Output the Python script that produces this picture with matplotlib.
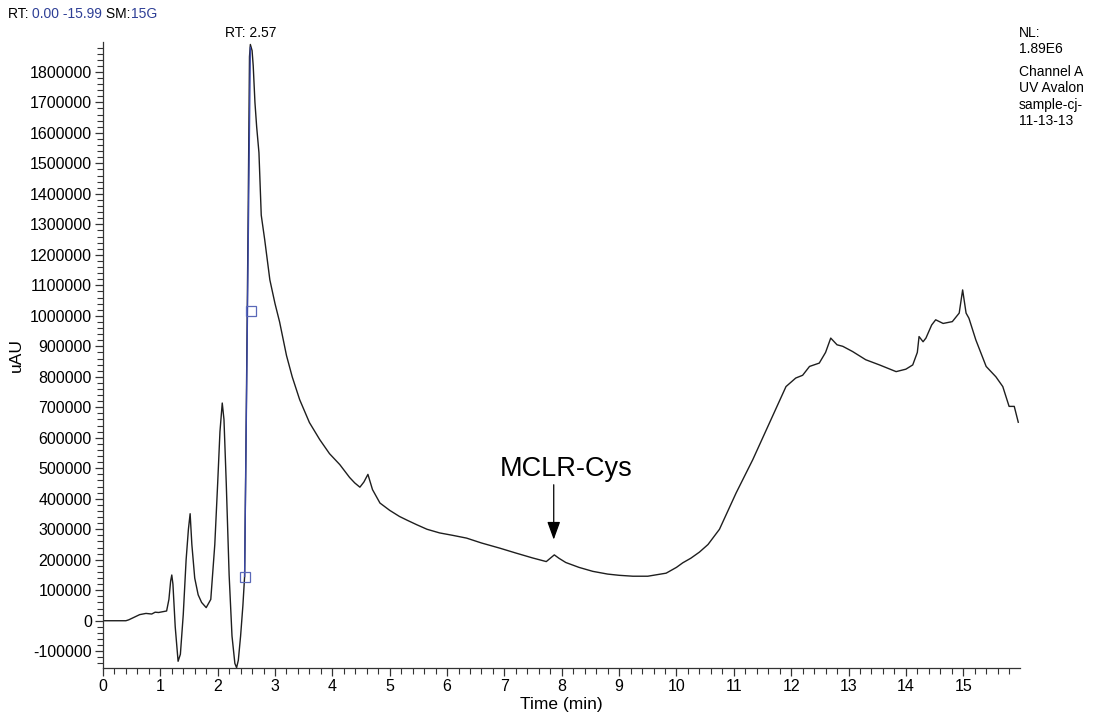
import matplotlib
matplotlib.use("Agg")
import matplotlib.pyplot as plt
from matplotlib.ticker import MultipleLocator, FixedLocator

plt.rcParams['font.family'] = ['Liberation Sans', 'DejaVu Sans']

# ---- data ----
time_min = [0.0, 0.40, 0.45, 0.55, 0.64, 0.75, 0.85, 0.91, 0.97, 1.05, 1.11, 1.15, 1.18, 1.20,
            1.22, 1.26, 1.31, 1.35, 1.40, 1.45, 1.49, 1.52, 1.55, 1.60, 1.66, 1.72, 1.80, 1.88,
            1.95, 2.00, 2.04, 2.08, 2.11, 2.15, 2.20, 2.25, 2.30, 2.33, 2.36, 2.40, 2.44, 2.47,
            2.50, 2.53, 2.555, 2.57, 2.60, 2.62, 2.65, 2.68, 2.72, 2.76, 2.82, 2.91, 3.0, 3.08,
            3.2, 3.3, 3.43, 3.6, 3.78, 3.95, 4.13, 4.3, 4.39, 4.48, 4.55, 4.62, 4.7, 4.83, 5.0,
            5.17, 5.3, 5.47, 5.65, 5.87, 6.1, 6.34, 6.6, 6.92, 7.2, 7.49, 7.65, 7.73, 7.8, 7.87,
            7.95, 8.07, 8.3, 8.54, 8.8, 9.0, 9.24, 9.5, 9.82, 10.0, 10.11, 10.25, 10.40, 10.55,
            10.75, 11.04, 11.33, 11.62, 11.91, 12.08, 12.2, 12.32, 12.49, 12.6, 12.69, 12.8,
            12.9, 13.07, 13.3, 13.54, 13.83, 14.0, 14.12, 14.2, 14.23, 14.3, 14.35, 14.45,
            14.52, 14.65, 14.81, 14.93, 14.99, 15.05, 15.1, 15.22, 15.4, 15.57, 15.69, 15.8,
            15.89, 15.96]
signal_uau = [0, 0, 3000, 12000, 20000, 24000, 22000, 28000, 27000, 30000, 32000, 70000, 130000,
              150000, 120000, -20000, -133000, -110000, 20000, 200000, 300000, 351000, 250000,
              140000, 85000, 60000, 43000, 70000, 250000, 450000, 620000, 714000, 660000, 450000,
              150000, -50000, -140000, -154000, -130000, -50000, 50000, 145000, 700000, 1300000,
              1850000, 1890000, 1870000, 1820000, 1700000, 1620000, 1535000, 1330000, 1250000,
              1118000, 1040000, 980000, 870000, 800000, 725000, 650000, 594000, 548000, 512000,
              470000, 452000, 438000, 455000, 480000, 430000, 386000, 362000, 342000, 330000,
              315000, 300000, 288000, 280000, 271000, 255000, 238000, 222000, 206000, 198000,
              194000, 205000, 216000, 205000, 191000, 175000, 162000, 153000, 149000, 146000,
              146000, 156000, 175000, 190000, 205000, 225000, 250000, 300000, 419000, 528000,
              648000, 768000, 796000, 805000, 834000, 845000, 880000, 927000, 905000, 900000,
              883000, 856000, 839000, 817000, 825000, 839000, 880000, 932000, 915000, 927000,
              970000, 987000, 975000, 981000, 1009000, 1085000, 1009000, 992000, 921000, 834000,
              800000, 768000, 703000, 703000, 651000]

# peak baseline markers (blue)
peak_base_t = [2.47, 2.57]
peak_base_v = [145000, 1880000]
box_t = [2.47, 2.58]
box_v = [145000, 1015000]

x_ticks = list(range(0, 16))
y_ticks = list(range(-100000, 1800001, 100000))

annot_label = "MCLR-Cys"
annot_t = 7.86
annot_v_tip = 266000
annot_v_start = 446000
annot_text_t = 8.07
annot_text_v = 455000

fig = plt.figure(figsize=(10.93, 7.22), dpi=100)
ax = fig.add_axes([0.0942, 0.0748, 0.839, 0.867])

ax.plot(time_min, signal_uau, color='#1e1e1e', lw=1.0)
ax.plot(peak_base_t, peak_base_v, color='#3a48a8', lw=1.0)
ax.plot(box_t, box_v, linestyle='none', marker='s', markersize=7,
        markerfacecolor='none', markeredgecolor='#5a68b8', markeredgewidth=0.9)

ax.set_xlim(0, 15.99)
ax.set_ylim(-155000, 1898000)

for s in ['top', 'right']:
    ax.spines[s].set_visible(False)
for s in ['left', 'bottom']:
    ax.spines[s].set_color('#333333')
    ax.spines[s].set_linewidth(0.9)

ax.xaxis.set_major_locator(FixedLocator(x_ticks))
ax.xaxis.set_minor_locator(MultipleLocator(0.2))
ax.yaxis.set_major_locator(FixedLocator(y_ticks))
ax.yaxis.set_minor_locator(MultipleLocator(20000))
ax.set_yticklabels([str(v) for v in y_ticks])
ax.set_xticklabels([str(v) for v in x_ticks])
ax.tick_params(axis='both', which='major', labelsize=11.5, length=6, width=0.9,
               color='#333333', direction='out', pad=2)
ax.tick_params(axis='both', which='minor', length=4, width=0.8, color='#333333',
               direction='out')

ax.set_xlabel("Time (min)", fontsize=12.5, labelpad=2)
ax.set_ylabel("uAU", fontsize=12.5, labelpad=4)

ax.text(annot_text_t, annot_text_v, annot_label, ha='center', va='bottom', fontsize=19.5)
ax.annotate('', xy=(annot_t, annot_v_tip), xytext=(annot_t, annot_v_start),
            arrowprops=dict(arrowstyle='-|>,head_length=0.55,head_width=0.2',
                            color='black', lw=0.9, shrinkA=0, shrinkB=0,
                            mutation_scale=20))

ax.text(2.57, 1905000, "RT: 2.57", ha='center', va='bottom', fontsize=10)

# header with mixed colours
fig.canvas.draw()
renderer = fig.canvas.get_renderer()
pieces = [("RT: ", 'black'), ("0.00 -15.99", '#2e3f96'), (" SM:", 'black'), ("15G", '#2e3f96')]
x_px = 8
y_fig = 1 - 14 / 722
for txt, col in pieces:
    t = fig.text(x_px / 1093, y_fig, txt, color=col, fontsize=10, va='center', ha='left')
    bb = t.get_window_extent(renderer)
    x_px += bb.width

side_lines = ["NL:", "1.89E6", "Channel A", "UV Avalon", "sample-cj-", "11-13-13"]
side_y = [33, 49, 72, 88, 105, 121]
for s, yy in zip(side_lines, side_y):
    fig.text(1019 / 1093, 1 - yy / 722, s, fontsize=10, va='center', ha='left')

fig.savefig("out.png", dpi=100)
